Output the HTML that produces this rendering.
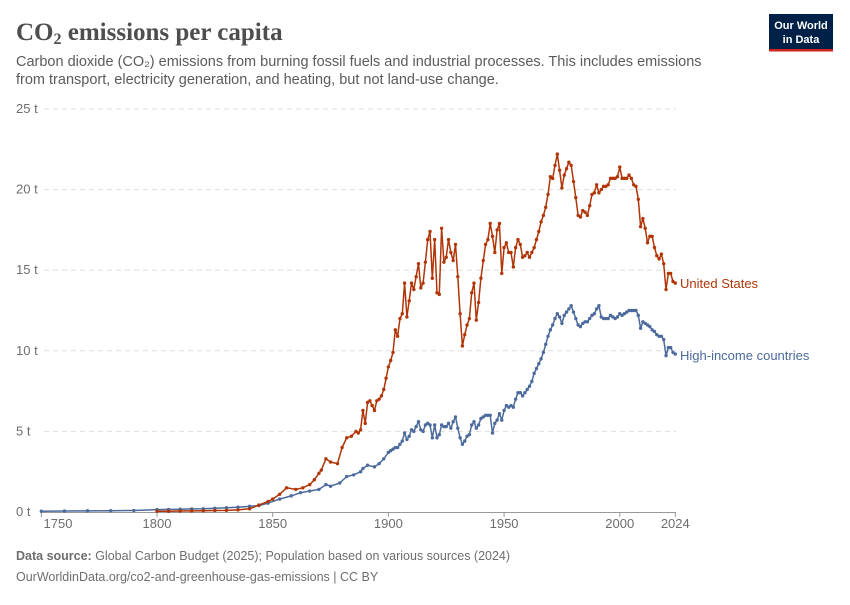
<!DOCTYPE html>
<html><head><meta charset="utf-8"><style>
body{margin:0;background:#fff;}
#wrap{position:relative;width:850px;height:600px;font-family:"Liberation Sans",sans-serif;}
</style></head><body>
<div id="wrap">
<svg id="chart" width="850" height="600" xmlns="http://www.w3.org/2000/svg">
<text x="16" y="40" font-family="Liberation Serif, serif" font-size="25" font-weight="bold" fill="#4e4e4e">CO<tspan font-size="16" dy="4">2</tspan><tspan dy="-4"> emissions per capita</tspan></text>
<text x="16" y="66" font-size="14.5" fill="#5b5b5b">Carbon dioxide (CO₂) emissions from burning fossil fuels and industrial processes. This includes emissions</text>
<text x="16" y="84" font-size="14.5" fill="#5b5b5b">from transport, electricity generation, and heating, but not land-use change.</text>
<g>
<rect x="769" y="14" width="64" height="37" fill="#002147"/>
<rect x="769" y="49" width="64" height="2.5" fill="#ce261e"/>
<text x="801" y="29" font-size="11" fill="#fff" text-anchor="middle" font-weight="bold">Our World</text>
<text x="801" y="43" font-size="11" fill="#fff" text-anchor="middle" font-weight="bold">in Data</text>
</g>
<g id="grid"></g><g id="axes"></g><g id="series"></g>
<text x="16" y="560" font-size="12.5" fill="#6e6e6e"><tspan font-weight="bold">Data source:</tspan> Global Carbon Budget (2025); Population based on various sources (2024)</text>
<text x="16" y="581" font-size="12.5" fill="#6e6e6e">OurWorldinData.org/co2-and-greenhouse-gas-emissions | CC BY</text>
</svg></div>
<script>
const yTicks=[0,5,10,15,20,25];
const xTicks=[1750,1800,1850,1900,1950,2000,2024];
const usYears=[1800,1805,1810,1815,1820,1825,1830,1835,1840,1844,1848,1850,1853,1856,1860,1863,1866,1868,1870,1871,1873,1875,1878,1880,1882,1884,1886,1887,1888,1889,1890,1891,1892,1893,1894,1895,1896,1897,1898,1899,1900,1901,1902,1903,1904,1905,1906,1907,1908,1909,1910,1911,1912,1913,1914,1915,1916,1917,1918,1919,1920,1921,1922,1923,1924,1925,1926,1927,1928,1929,1930,1931,1932,1933,1934,1935,1936,1937,1938,1939,1940,1941,1942,1943,1944,1945,1946,1947,1948,1949,1950,1951,1952,1953,1954,1955,1956,1957,1958,1959,1960,1961,1962,1963,1964,1965,1966,1967,1968,1969,1970,1971,1972,1973,1974,1975,1976,1977,1978,1979,1980,1981,1982,1983,1984,1985,1986,1987,1988,1989,1990,1991,1992,1993,1994,1995,1996,1997,1998,1999,2000,2001,2002,2003,2004,2005,2006,2007,2008,2009,2010,2011,2012,2013,2014,2015,2016,2017,2018,2019,2020,2021,2022,2023,2024];
const usValues=[0.05,0.05,0.06,0.07,0.08,0.09,0.1,0.13,0.2,0.43,0.65,0.8,1.1,1.5,1.4,1.5,1.7,2.0,2.4,2.6,3.3,3.1,3.0,4.0,4.6,4.7,5.0,4.9,5.1,6.3,5.5,6.8,6.9,6.6,6.3,6.9,7.0,7.2,7.6,8.3,9.0,9.4,9.9,11.3,10.9,12.0,12.3,14.2,12.1,13.1,14.2,13.8,14.6,15.4,13.9,14.2,15.5,16.9,17.4,14.5,16.9,13.6,13.5,17.6,15.5,15.8,16.9,16.1,15.6,16.6,14.6,12.3,10.3,11.0,11.6,12.0,13.6,14.2,11.9,13.0,14.5,15.6,16.6,16.9,17.9,17.1,16.1,17.5,17.9,14.8,16.4,16.7,16.1,16.1,15.2,16.4,16.9,16.6,15.8,15.9,16.1,15.8,16.1,16.4,16.9,17.4,18.0,18.4,18.9,19.7,20.8,20.7,21.5,22.2,21.2,20.1,20.9,21.3,21.7,21.5,20.5,19.5,18.4,18.3,18.7,18.6,18.4,19.0,19.7,19.8,20.3,19.8,20.0,20.2,20.2,20.3,20.7,20.7,20.7,20.8,21.4,20.7,20.7,20.7,20.9,20.7,20.3,20.2,19.4,17.7,18.2,17.6,16.7,17.1,17.1,16.4,15.9,15.7,16.0,15.4,13.8,14.8,14.8,14.3,14.2];
const hiYears=[1750,1760,1770,1780,1790,1800,1805,1810,1815,1820,1825,1830,1835,1840,1844,1848,1853,1858,1862,1866,1870,1873,1875,1879,1882,1885,1888,1889,1891,1894,1896,1898,1900,1901,1902,1903,1904,1905,1906,1907,1908,1909,1910,1911,1912,1913,1914,1915,1916,1917,1918,1919,1920,1921,1922,1923,1924,1925,1926,1927,1928,1929,1930,1931,1932,1933,1934,1935,1936,1937,1938,1939,1940,1941,1942,1943,1944,1945,1946,1947,1948,1949,1950,1951,1952,1953,1954,1955,1956,1957,1958,1959,1960,1961,1962,1963,1964,1965,1966,1967,1968,1969,1970,1971,1972,1973,1974,1975,1976,1977,1978,1979,1980,1981,1982,1983,1984,1985,1986,1987,1988,1989,1990,1991,1992,1993,1994,1995,1996,1997,1998,1999,2000,2001,2002,2003,2004,2005,2006,2007,2008,2009,2010,2011,2012,2013,2014,2015,2016,2017,2018,2019,2020,2021,2022,2023,2024];
const hiValues=[0.05,0.06,0.07,0.08,0.09,0.15,0.16,0.17,0.19,0.2,0.23,0.26,0.3,0.35,0.4,0.55,0.8,1.0,1.2,1.3,1.4,1.7,1.6,1.8,2.2,2.3,2.5,2.7,2.9,2.8,3.0,3.3,3.7,3.8,3.9,4.0,4.0,4.2,4.4,4.9,4.5,4.7,5.1,5.0,5.3,5.6,5.1,5.0,5.4,5.5,5.4,4.6,5.4,4.6,4.8,5.4,5.3,5.3,5.5,5.2,5.6,5.9,5.2,4.6,4.2,4.4,4.7,4.8,5.4,5.6,5.2,5.4,5.8,5.9,6.0,6.0,6.0,4.9,5.5,5.7,6.1,5.7,6.3,6.6,6.5,6.6,6.5,7.0,7.4,7.4,7.2,7.4,7.6,7.8,8.1,8.6,8.9,9.2,9.5,9.9,10.4,10.9,11.3,11.6,12.0,12.3,12.1,11.7,12.2,12.4,12.6,12.8,12.4,12.0,11.6,11.5,11.7,11.8,11.8,12.0,12.2,12.3,12.6,12.8,12.1,12.0,12.0,12.0,12.2,12.1,12.0,12.1,12.3,12.2,12.3,12.4,12.5,12.5,12.5,12.5,12.2,11.4,11.8,11.7,11.6,11.5,11.3,11.2,11.0,10.9,10.9,10.7,9.7,10.2,10.2,9.9,9.8];
const NS="http://www.w3.org/2000/svg";
const x=yr=>157+(yr-1800)*(518.3/224);
const y=v=>512-v*16.12;
function el(tag,attrs,parent){const e=document.createElementNS(NS,tag);for(const k in attrs)e.setAttribute(k,attrs[k]);parent.appendChild(e);return e;}
const grid=document.getElementById('grid'),axes=document.getElementById('axes'),ser=document.getElementById('series');
yTicks.forEach(t=>{
  if(t>0){const l=el('line',{x1:44,x2:676,y1:y(t),y2:y(t),stroke:'#dddddd','stroke-dasharray':'5,4'},grid);
  
  }
  const tx=el('text',{x:16,y:y(t)+4,'font-size':13,fill:'#6e6e6e'},grid);
  tx.textContent=t+' t';
  
  
});
const ax=el('line',{x1:41,x2:676,y1:512.5,y2:512.5,stroke:'#999'},axes);


xTicks.forEach(t=>{
  el('line',{x1:x(t),x2:x(t),y1:512,y2:517,stroke:'#999'},axes);
  const lx=t===1750?58:x(t);
  const tx=el('text',{x:lx,y:528,'font-size':13,fill:'#6e6e6e','text-anchor':'middle'},axes);
  tx.textContent=t;
  
  
});
function draw(years,vals,color,name,label,ly){
  const g=el('g',{},ser);
  
  
  const d=years.map((yr,i)=>(i?'L':'M')+x(yr).toFixed(1)+','+y(vals[i]).toFixed(1)).join('');
  el('path',{d:d,fill:'none',stroke:color,'stroke-width':1.5,'stroke-linejoin':'round'},g);
  years.forEach((yr,i)=>{const c=el('circle',{cx:x(yr),cy:y(vals[i]),r:1.7,fill:color},g);
    
    });
  const t=el('text',{x:680,y:ly,'font-size':13,fill:color},ser);
  t.textContent=label;
  
  
}
draw(hiYears,hiValues,'#4c6a9c','high-income','High-income countries',360);
draw(usYears,usValues,'#b13507','united-states','United States',288);
</script>
</body></html>
